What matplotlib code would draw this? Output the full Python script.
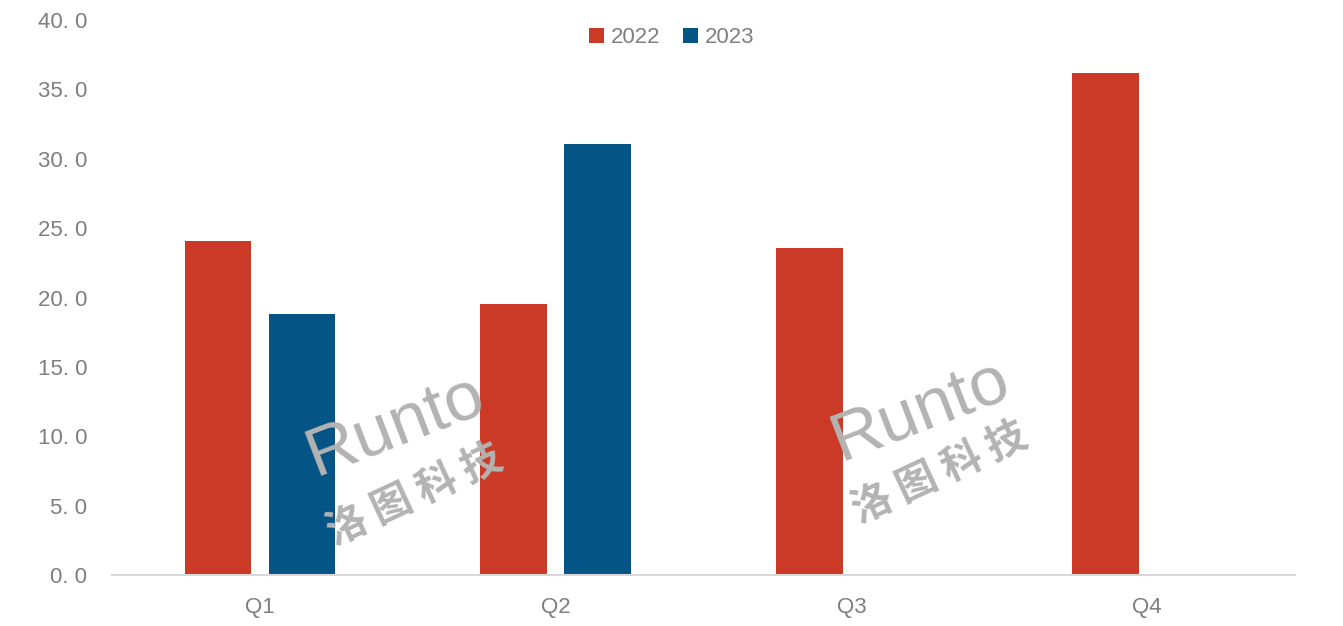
import numpy as np
import matplotlib
matplotlib.use('Agg')
import matplotlib.pyplot as plt

plt.rcParams['font.family'] = ['Liberation Sans', 'Noto Sans CJK SC', 'DejaVu Sans']

trimestres = ['Q1', 'Q2', 'Q3', 'Q4']
valores_2022 = [24.1, 19.5, 23.6, 36.2]
valores_2023 = [18.8, 31.1, np.nan, np.nan]
ticks_y = [0, 5, 10, 15, 20, 25, 30, 35, 40]

ROJO = '#CA3A27'
AZUL = '#045486'
GRIS = '#7F7F7F'

fig = plt.figure(figsize=(13.43, 6.26), dpi=100)
ax = fig.add_axes([0.0834, 0.0815, 0.881, 0.8865])

x = np.arange(len(trimestres))
ancho = 0.225
ax.bar(x - 0.142, valores_2022, ancho, color=ROJO, label='2022', zorder=2)
ax.bar(x + 0.142, valores_2023, ancho, color=AZUL, label='2023', zorder=2)

ax.set_xlim(-0.5, 3.5)
ax.set_ylim(0, 40)
ax.set_yticks(ticks_y)
ax.set_yticklabels([f'{v:.1f}'.replace('.', '. ') for v in ticks_y])
ax.set_xticks(x)
ax.set_xticklabels(trimestres)
ax.tick_params(axis='y', length=0, pad=18, labelsize=16, labelcolor=GRIS)
ax.tick_params(axis='x', length=0, pad=16, labelsize=16, labelcolor=GRIS)

for lado in ['top', 'right', 'left']:
    ax.spines[lado].set_visible(False)
ax.spines['bottom'].set_color('#D9D9D9')
ax.spines['bottom'].set_linewidth(1.5)

# marcas de agua
for (rx, ry), (cx, cy) in [((0.294, 0.321), (0.309, 0.209)),
                           ((0.685, 0.345), (0.70, 0.245))]:
    fig.text(rx, ry, 'Runto', fontsize=50, color='#B3B3B3', rotation=21,
             ha='center', va='center', zorder=5)
    fig.text(cx, cy, '洛 图 科 技', fontsize=29, color='#B3B3B3',
             rotation=25, ha='center', va='center', fontweight='bold',
             family=['Noto Sans CJK SC', 'DejaVu Sans'], zorder=5)

fig.legend(loc='center', bbox_to_anchor=(0.5, 0.94), ncol=2, frameon=False,
           fontsize=16, labelcolor=GRIS, handlelength=0.7, handleheight=0.7,
           handletextpad=0.3, columnspacing=1.0)

fig.savefig('out.png', dpi=100)
